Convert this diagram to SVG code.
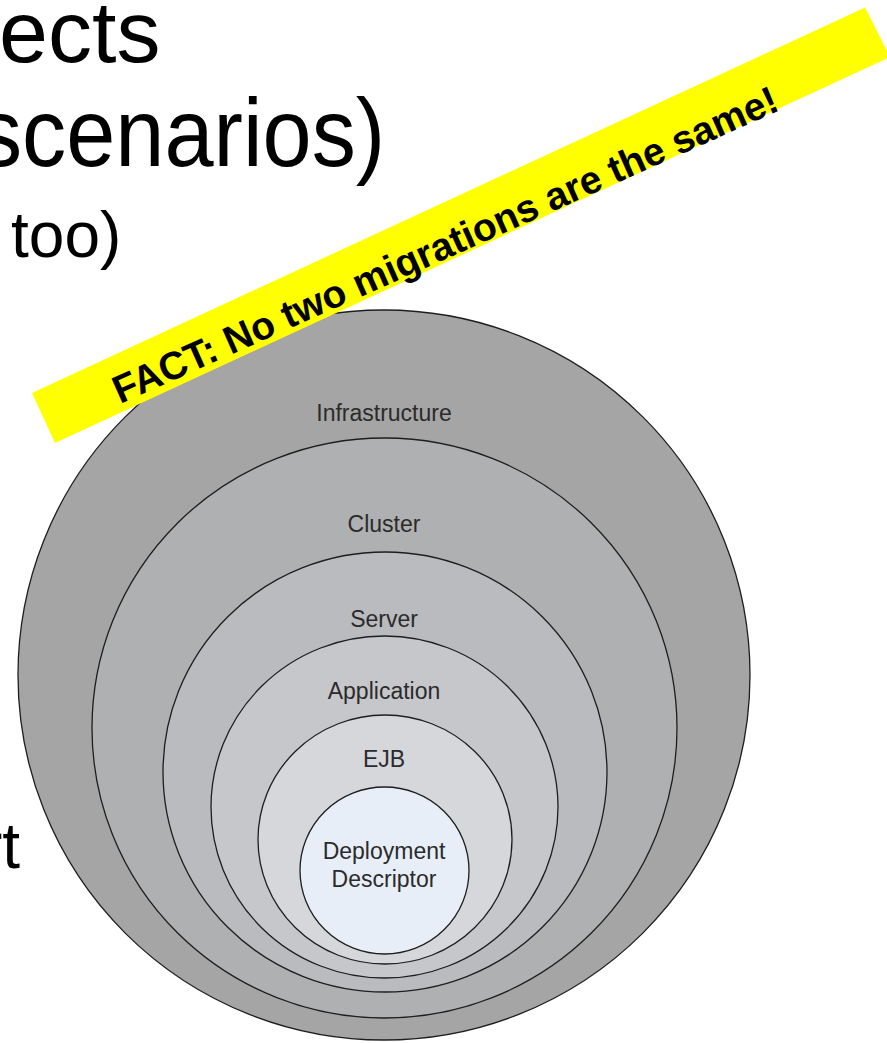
<svg xmlns="http://www.w3.org/2000/svg" width="887" height="1043" viewBox="0 0 887 1043">
<style>
.big{font-family:"Liberation Sans",Arial,sans-serif;fill:#000}
.ring{stroke:#1e1e1e;stroke-width:1.3}
.lbl{font-family:"Liberation Sans",Arial,sans-serif;font-size:23px;fill:#2b2b2b;text-anchor:middle}
.fact{font-family:"Liberation Sans",Arial,sans-serif;font-weight:bold;font-size:39px;fill:#000}
</style>
<rect width="887" height="1043" fill="#fff"/>
<g id="slide-text">
<text class="big" x="-1" y="62" font-size="88">ects</text>
<text class="big" x="-24" y="166" font-size="96" transform="scale(0.92,1)">scenarios)</text>
<text class="big" x="11" y="257" font-size="64">too)</text>
<text class="big" x="20" y="868" font-size="64" text-anchor="end">rt</text>
</g>
<g id="infrastructure">
<ellipse class="ring" cx="384" cy="675" rx="366" ry="365" fill="#a5a5a5"/>
<text class="lbl" x="384" y="421">Infrastructure</text>
</g>
<g id="cluster">
<ellipse class="ring" cx="384.5" cy="728" rx="292.5" ry="290" fill="#afb0b1"/>
<text class="lbl" x="384" y="532">Cluster</text>
</g>
<g id="server">
<ellipse class="ring" cx="385" cy="772" rx="222" ry="220" fill="#b9bbbe"/>
<text class="lbl" x="384" y="627">Server</text>
</g>
<g id="application">
<ellipse class="ring" cx="384.5" cy="807" rx="173.5" ry="171" fill="#c6c7ca"/>
<text class="lbl" x="384" y="699">Application</text>
</g>
<g id="ejb">
<ellipse class="ring" cx="385" cy="839.5" rx="127" ry="124.5" fill="#d5d7db"/>
<text class="lbl" x="384" y="767">EJB</text>
</g>
<g id="deployment-descriptor">
<ellipse class="ring" cx="384.5" cy="870.5" rx="84.5" ry="83.5" fill="#e8eef8"/>
<text class="lbl" x="384" y="859">Deployment</text>
<text class="lbl" x="384" y="887">Descriptor</text>
</g>
<g id="fact-banner">
<polygon points="32,393 865,7.5 890,57 55,443" fill="#ffff00"/>
<text class="fact" x="120" y="404" transform="rotate(-24 120 404)">FACT: No two migrations are the same!</text>
</g>
<g id="connectors"/>
</svg>
